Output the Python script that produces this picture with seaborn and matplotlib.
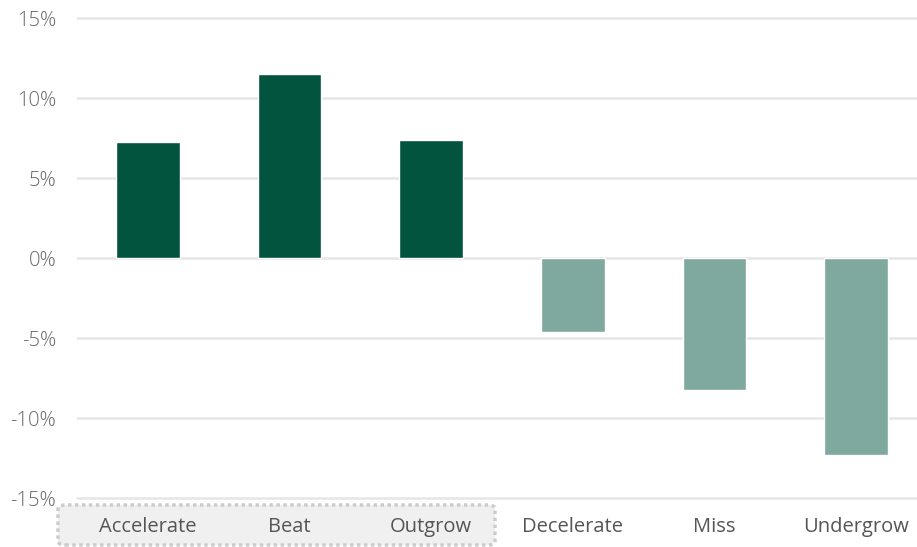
import matplotlib
matplotlib.use("Agg")
import matplotlib.pyplot as plt
from matplotlib.patches import FancyBboxPatch
import seaborn as sns
import pandas as pd

categories = ["Accelerate", "Beat", "Outgrow", "Decelerate", "Miss", "Undergrow"]
values = [7.25, 11.5, 7.35, -4.65, -8.25, -12.3]
y_ticks = [-15, -10, -5, 0, 5, 10, 15]
y_tick_labels = ["-15%", "-10%", "-5%", "0%", "5%", "10%", "15%"]

dark = "#02543f"
light = "#7fa89f"
colors = [dark if v >= 0 else light for v in values]

sns.set_theme(style="white")
plt.rcParams['font.family'] = ['Open Sans', 'DejaVu Sans']

df = pd.DataFrame({"category": categories, "value": values})

fig = plt.figure(figsize=(9.17, 5.47), dpi=100)
ax = fig.add_axes([77/917, 1-498/547, 1-77/917, (498-18)/547])

sns.barplot(data=df, x="category", y="value", hue="category",
            palette=colors, width=0.45, legend=False, ax=ax, saturation=1)

ax.set_ylim(-15, 15)
ax.set_xlim(-0.5, 5.43)
ax.set_yticks(y_ticks)
ax.set_yticklabels(y_tick_labels)
for y in y_ticks:
    ax.axhline(y, color="#e6e6e6", lw=1.8, zorder=0, clip_on=False)
ax.set_xlabel("")
ax.set_ylabel("")
for s in ax.spines.values():
    s.set_visible(False)
ax.tick_params(axis="both", length=0)
ax.tick_params(axis="y", pad=15, labelsize=14.5, labelcolor="#666666")
ax.tick_params(axis="x", pad=14, labelsize=14.5, labelcolor="#555555")
for t in ax.get_yticklabels():
    t.set_fontweight("light")

box = FancyBboxPatch((58/917, 1-545/547), (495-58)/917, (545-505)/547,
                     boxstyle="round,pad=0,rounding_size=0.008",
                     transform=fig.transFigure, facecolor="#f0f0f0",
                     edgecolor="#cccccc", lw=2.5, linestyle=(0, (1, 1)),
                     zorder=-1)
fig.patches.append(box)

fig.savefig("out.png", dpi=100)
